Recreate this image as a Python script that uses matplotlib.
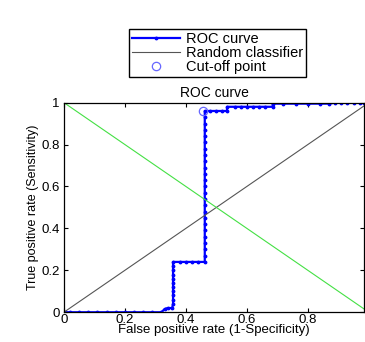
import matplotlib
matplotlib.use("Agg")
import matplotlib.pyplot as plt

plt.rcParams['font.family'] = ['Liberation Sans', 'DejaVu Sans']

# ── ROC data ────────────────────────────────────────────────────────────────
fpr = [0.0, 0.02, 0.05, 0.08, 0.11, 0.14, 0.17, 0.20, 0.23, 0.26, 0.29, 0.32, 0.33,
       0.34, 0.355, 0.358, 0.358, 0.358, 0.358, 0.358, 0.358, 0.358, 0.358, 0.358, 0.358,
       0.358, 0.38, 0.40, 0.42, 0.44, 0.462, 0.462, 0.462, 0.462, 0.462, 0.462,
       0.462, 0.462, 0.462, 0.462, 0.462, 0.462, 0.462, 0.462, 0.462, 0.462, 0.462,
       0.462, 0.462, 0.462, 0.462, 0.462, 0.462, 0.462, 0.462, 0.48, 0.50, 0.52, 0.535,
       0.535, 0.56, 0.58, 0.60, 0.62, 0.64, 0.66, 0.685, 0.685, 0.72, 0.76, 0.80,
       0.84, 0.87, 0.89, 0.91, 0.93, 0.95, 0.97, 0.985]
tpr = [0.0, 0.0, 0.0, 0.0, 0.0, 0.0, 0.0, 0.0, 0.0, 0.0, 0.0, 0.0, 0.015,
       0.02, 0.02, 0.04, 0.06, 0.08, 0.10, 0.12, 0.14, 0.16, 0.18, 0.20, 0.22,
       0.24, 0.24, 0.24, 0.24, 0.24, 0.24, 0.27, 0.30, 0.33, 0.36, 0.39,
       0.42, 0.45, 0.48, 0.51, 0.54, 0.57, 0.60, 0.63, 0.66, 0.69, 0.72,
       0.75, 0.78, 0.81, 0.84, 0.87, 0.90, 0.93, 0.96, 0.96, 0.96, 0.96, 0.96,
       0.98, 0.98, 0.98, 0.98, 0.98, 0.98, 0.98, 0.98, 0.995, 0.995, 0.995, 0.995,
       0.995, 0.995, 1.0, 1.0, 1.0, 1.0, 1.0, 1.0]

cutoff_fpr = [0.455]
cutoff_tpr = [0.96]

random_x = [0, 1]
random_y = [0, 1]
green_x = [0, 1]
green_y = [1, 0]

xticks = [0, 0.2, 0.4, 0.6, 0.8]
yticks = [0, 0.2, 0.4, 0.6, 0.8, 1]

# ── Figure ──────────────────────────────────────────────────────────────────
fig = plt.figure(figsize=(3.65, 3.42), dpi=100)
ax = fig.add_axes([0.175, 0.087, 0.823, 0.613])

roc, = ax.plot(fpr, tpr, '.-', color='#0000ff', lw=1.6, ms=3.5, label='ROC curve')
rnd, = ax.plot(random_x, random_y, color='#555555', lw=0.8, label='Random classifier')
ax.plot(green_x, green_y, color='#44e044', lw=0.8)
cut, = ax.plot(cutoff_fpr, cutoff_tpr, 'o', mfc='none', mec='#6666ff', mew=0.9, ms=6,
               label='Cut-off point')

ax.set_xlim(0, 0.985)
ax.set_ylim(0, 1)
ax.set_xticks(xticks)
ax.set_xticklabels(['0', '0.2', '0.4', '0.6', '0.8'])
ax.set_yticks(yticks)
ax.set_yticklabels(['0', '0.2', '0.4', '0.6', '0.8', '1'])
ax.tick_params(direction='in', length=3, labelsize=9.5, top=True, right=True)
ax.tick_params(axis='x', pad=1)
ax.tick_params(axis='y', pad=3)
for s in ax.spines.values():
    s.set_linewidth(0.9)

ax.set_title('ROC curve', fontsize=10, pad=4)
ax.set_xlabel('False positive rate (1-Specificity)', fontsize=9.5, labelpad=-1)
ax.set_ylabel('True positive rate (Sensitivity)', fontsize=9, labelpad=2)

fig.legend(handles=[roc, rnd, cut], loc='center', bbox_to_anchor=(0.597, 0.846),
           fontsize=10.5, frameon=True, fancybox=False, edgecolor='black',
           framealpha=1, borderpad=0.2, labelspacing=0.0, handlelength=3.3,
           handletextpad=0.4)

fig.savefig('out.png', dpi=100)
